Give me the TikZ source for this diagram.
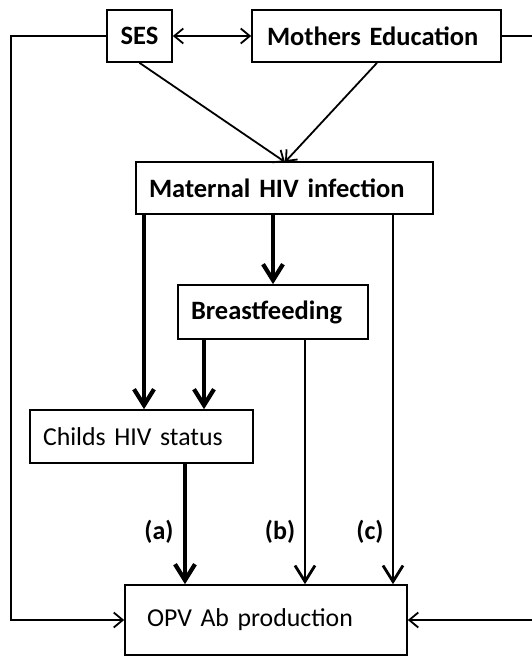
\documentclass[tikz,border=0pt]{standalone}
\usepackage{fontspec}
\setmainfont{Carlito}
\usetikzlibrary{arrows.meta}
\begin{document}
\begin{tikzpicture}[x=1pt,y=-1pt,
  box/.style={draw,line width=1.7pt,rectangle,inner ysep=0pt,align=left,font=\fontsize{25.8}{28}\selectfont},
  bbox/.style={box,font=\fontsize{26.5}{28}\selectfont\bfseries},
  thin/.style={line width=1.8pt},
  thinarr/.style={thin,-{Straight Barb[length=9pt,width=15pt]}},
  medarr/.style={line width=2.8pt,-{Straight Barb[length=16pt,width=20pt]}},
  thickarr/.style={line width=4.2pt,-{Straight Barb[length=16pt,width=20pt]}},
  lab/.style={font=\fontsize{26}{28}\selectfont\bfseries}]
\useasboundingbox (0,0) rectangle (531,656);
\node[bbox,minimum width=65,minimum height=52,inner xsep=0pt,align=center] (SES) at (139.5,36) {SES};
\node[bbox,minimum height=52,text width=219,inner xsep=15pt] (ME) at (376.5,36) {Mothers Education};
\node[bbox,minimum height=52,text width=271,inner xsep=13pt] (MHI) at (284.5,188) {Maternal HIV infection};
\node[bbox,minimum height=54,text width=164,inner xsep=13pt] (BF) at (273,312) {Breastfeeding};
\node[box,minimum height=53,text width=197,inner xsep=13pt] (CHS) at (141.5,436.5) {Childs HIV status};
\node[box,minimum height=70,text width=238,inner xsep=22pt] (OPV) at (266,620) {OPV Ab production};
\coordinate (L1) at (11,36);
\coordinate (L2) at (11,620);
\coordinate (R1) at (535,36);
\coordinate (R2) at (535,620);
\coordinate (MT) at (285,162);
% top relations
\draw[thin,{Straight Barb[length=9pt,width=15pt]}-{Straight Barb[length=9pt,width=15pt]}] (SES.east) -- (ME.west);
\draw[thinarr] (SES.south) -- (MT);
\draw[thinarr] (ME.south -| 377,0) -- (MT);
% outer loops
\draw[thinarr] (SES.west) -- (L1) -- (L2) -- (OPV.west);
\draw[thinarr] (ME.east) -- (R1) -- (R2) -- (OPV.east);
% from maternal HIV
\draw[thickarr] (MHI.south -| 144,0) -- (CHS.north -| 144,0);
\draw[thickarr] (MHI.south -| 273,0) -- (BF.north -| 273,0);
\draw[medarr] (MHI.south -| 393,0) -- (OPV.north -| 393,0);
% from breastfeeding
\draw[thickarr] (BF.south -| 204,0) -- (CHS.north -| 204,0);
\draw[medarr] (BF.south -| 305,0) -- (OPV.north -| 305,0);
% child status
\draw[thickarr] (CHS.south -| 185,0) -- (OPV.north -| 185,0);
% labels
\node[lab] (la) at (159,532) {(a)};
\node[lab] (lb) at (280,532) {(b)};
\node[lab] (lc) at (370,532) {(c)};
\end{tikzpicture}
\end{document}
